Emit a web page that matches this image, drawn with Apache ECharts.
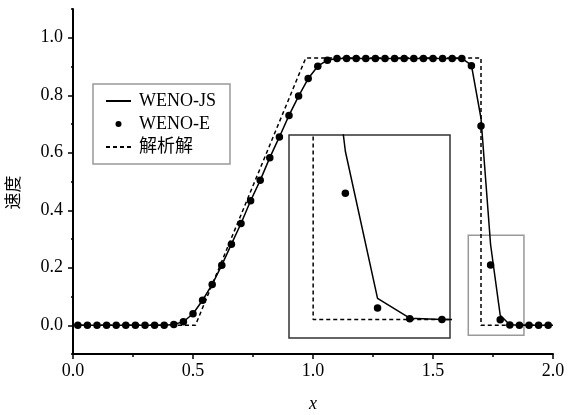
<!DOCTYPE html>
<html>
<head>
<meta charset="utf-8">
<script src="https://cdn.jsdelivr.net/npm/echarts@6/dist/echarts.min.js"></script>
<style>
  html, body { margin: 0; padding: 0; background: #fff; }
  #chart { width: 568px; height: 415px; }
</style>
</head>
<body>
<div id="chart"></div>
<script>
// cell centres
var xCells = [0.02, 0.06, 0.10, 0.14, 0.18, 0.22, 0.26, 0.30, 0.34, 0.38,
  0.42, 0.46, 0.50, 0.54, 0.58, 0.62, 0.66, 0.70, 0.74, 0.78,
  0.82, 0.86, 0.90, 0.94, 0.98, 1.02, 1.06, 1.10, 1.14, 1.18,
  1.22, 1.26, 1.30, 1.34, 1.38, 1.42, 1.46, 1.50, 1.54, 1.58,
  1.62, 1.66, 1.70, 1.74, 1.78, 1.82, 1.86, 1.90, 1.94, 1.98];
var wenoJS = [0, 0, 0, 0, 0, 0, 0, 0, 0, 0,
  0.003, 0.012, 0.040, 0.087, 0.142, 0.209, 0.282, 0.354, 0.433, 0.504,
  0.583, 0.655, 0.730, 0.797, 0.858, 0.901, 0.922, 0.928, 0.928, 0.928,
  0.928, 0.928, 0.928, 0.928, 0.928, 0.928, 0.928, 0.928, 0.928, 0.928,
  0.928, 0.905, 0.720, 0.280, 0.035, 0.002, 0, 0, 0, 0];
var wenoE = [0, 0, 0, 0, 0, 0, 0, 0, 0, 0,
  0.003, 0.012, 0.040, 0.087, 0.142, 0.209, 0.282, 0.354, 0.433, 0.504,
  0.583, 0.655, 0.730, 0.797, 0.858, 0.901, 0.922, 0.928, 0.928, 0.928,
  0.928, 0.928, 0.928, 0.928, 0.928, 0.928, 0.928, 0.928, 0.928, 0.928,
  0.928, 0.903, 0.693, 0.210, 0.019, 0.001, 0, 0, 0, 0];
var exactX = [0, 0.51, 0.97, 1.70, 1.70, 2.0];
var exactY = [0, 0, 0.93, 0.93, 0, 0];
var yMajor = [0, 0.2, 0.4, 0.6, 0.8, 1.0];

var serif = '"Liberation Serif", "Noto Sans CJK SC", serif';
function pairs(xs, ys) {
  return xs.map(function (x, i) { return [x, ys[i]]; });
}

var chart = echarts.init(document.getElementById('chart'));
var jsLine = { type: 'solid', color: '#000', width: 1.5 };
var exLine = { type: [4, 3], color: '#000', width: 1.5 };
var dot = { color: '#000', opacity: 1 };

chart.setOption({
  animation: false,
  backgroundColor: '#fff',
  textStyle: { fontFamily: serif },
  grid: [
    { left: 73, top: 9, width: 480, height: 345, show: false, outerBoundsMode: 'none' },
    { left: 289, top: 135, width: 161, height: 203, show: true, outerBoundsMode: 'none',
      backgroundColor: '#fff', borderColor: '#333', borderWidth: 1.5, z: 3 }
  ],
  legend: {
    left: 93, top: 84,
    orient: 'vertical',
    data: [
      { name: 'WENO-JS', itemStyle: { opacity: 0 } },
      { name: 'WENO-E', itemStyle: { color: '#000', opacity: 1 } },
      { name: '解析解', itemStyle: { opacity: 0 } }
    ],
    itemWidth: 25, itemHeight: 6, itemGap: 5,
    padding: [8, 14, 8, 12],
    borderColor: '#999', borderWidth: 1.5,
    backgroundColor: '#fff',
    textStyle: { fontFamily: serif, fontSize: 18, color: '#000', lineHeight: 18, padding: [0, 0, 0, 3] }
  },
  xAxis: [
    {
      type: 'value', gridIndex: 0, min: 0, max: 2, interval: 0.5,
      name: 'x', nameLocation: 'middle', nameGap: 41,
      nameTextStyle: { fontFamily: serif, fontSize: 18, fontStyle: 'italic', color: '#000' },
      axisLine: { show: true, onZero: false, lineStyle: { color: '#000', width: 2 } },
      axisTick: { show: true, length: 5, lineStyle: { color: '#000', width: 1.5 } },
      minorTick: { show: true, splitNumber: 2, length: 3, lineStyle: { color: '#000', width: 1.5 } },
      axisLabel: { fontSize: 18, color: '#000', margin: 8, fontFamily: serif,
        formatter: function (v) { return v.toFixed(1); } },
      splitLine: { show: false }
    },
    {
      type: 'value', gridIndex: 1, min: 1.67, max: 1.87, show: false
    }
  ],
  yAxis: [
    {
      type: 'value', gridIndex: 0, position: 'left', min: -0.1, max: 1.1, interval: 0.1,
      name: '速度', nameLocation: 'middle', nameGap: 50, nameRotate: 90,
      nameTextStyle: { fontFamily: serif, fontSize: 17, color: '#000', padding: [0, 22, 0, 0] },
      axisLine: { show: true, onZero: false, lineStyle: { color: '#000', width: 2 } },
      axisTick: { show: true, length: 2, lineStyle: { color: '#000', width: 1.5 } },
      axisLabel: { fontSize: 18, color: '#000', margin: 10, fontFamily: serif,
        customValues: yMajor,
        formatter: function (v) { return v.toFixed(1); } },
      splitLine: { show: false }
    },
    {
      type: 'value', gridIndex: 0, position: 'left', offset: 0, min: -0.1, max: 1.1,
      axisLine: { show: false },
      axisTick: { show: true, length: 5, customValues: yMajor, lineStyle: { color: '#000', width: 1.5 } },
      axisLabel: { show: false },
      splitLine: { show: false }
    },
    {
      type: 'value', gridIndex: 1, min: -0.031, max: 0.307, show: false
    }
  ],
  series: [
    {
      name: '解析解', type: 'line', xAxisIndex: 0, yAxisIndex: 0,
      data: pairs(exactX, exactY), symbol: 'none', lineStyle: exLine, itemStyle: dot, z: 2,
      markArea: {
        silent: true,
        itemStyle: { color: 'rgba(0,0,0,0)', borderColor: '#999', borderWidth: 1.5 },
        data: [[{ coord: [1.647, 0.313] }, { coord: [1.879, -0.035] }]]
      }
    },
    {
      name: 'WENO-JS', type: 'line', xAxisIndex: 0, yAxisIndex: 0,
      data: pairs(xCells, wenoJS), symbol: 'none', lineStyle: jsLine, itemStyle: dot, z: 3
    },
    {
      name: 'WENO-E', type: 'scatter', xAxisIndex: 0, yAxisIndex: 0,
      data: pairs(xCells, wenoE), symbol: 'circle', symbolSize: 7.5,
      itemStyle: dot, z: 4
    },
    // zoomed inset
    {
      name: '解析解', type: 'line', xAxisIndex: 1, yAxisIndex: 2, clip: true,
      data: pairs(exactX, exactY), symbol: 'none', lineStyle: exLine, itemStyle: dot, z: 5
    },
    {
      name: 'WENO-JS', type: 'line', xAxisIndex: 1, yAxisIndex: 2, clip: true,
      data: pairs(xCells, wenoJS), symbol: 'none', lineStyle: jsLine, itemStyle: dot, z: 6
    },
    {
      name: 'WENO-E', type: 'scatter', xAxisIndex: 1, yAxisIndex: 2, clip: true,
      data: pairs(xCells, wenoE), symbol: 'circle', symbolSize: 7.5,
      itemStyle: dot, z: 7
    }
  ]
});
</script>
</body>
</html>
